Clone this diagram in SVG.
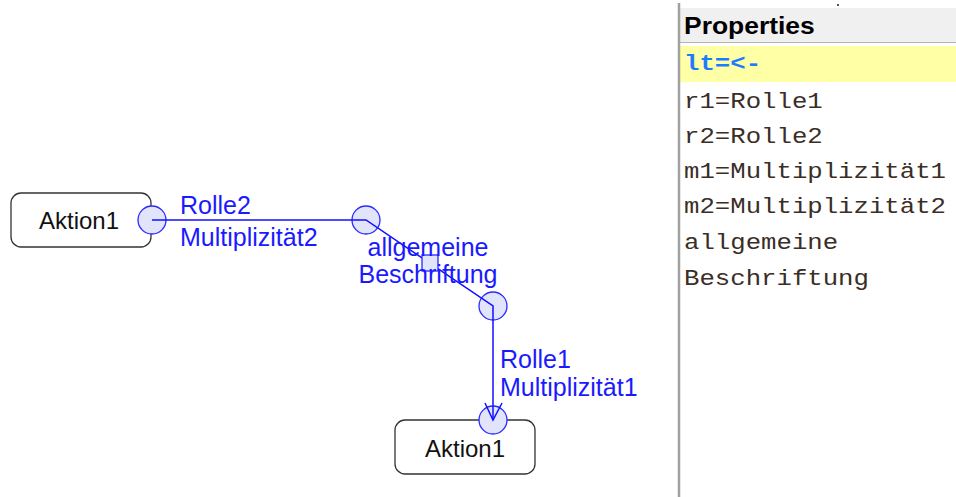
<svg xmlns="http://www.w3.org/2000/svg" width="956" height="497" viewBox="0 0 956 497">
<style>
.node{fill:#fff;stroke:#333;stroke-width:1.3}
.ntext{font-family:"Liberation Sans",Arial,sans-serif;font-size:24px;fill:#111;text-anchor:middle}
.lbl{font-family:"Liberation Sans",Arial,sans-serif;font-size:25px;fill:#1a1aff}
.edge{fill:none;stroke:#1010ff;stroke-width:1.5}
.handle{fill:#e2e4fb;stroke:#2a2aff;stroke-width:1.3}
.prop{font-family:"Liberation Mono","Courier New",monospace;font-size:22px;fill:#3a2e26}
</style>
<rect width="956" height="497" fill="#fff"/>
<g id="node1">
<rect class="node" x="11" y="193" width="140" height="54" rx="10"/>
<text class="ntext" x="79" y="229">Aktion1</text>
</g>
<g id="node2">
<rect class="node" x="395" y="420" width="140" height="54" rx="10"/>
<text class="ntext" x="465" y="457">Aktion1</text>
</g>
<g id="connectors">
<circle class="handle" cx="152" cy="220" r="14"/>
<circle class="handle" cx="366" cy="220" r="14"/>
<circle class="handle" cx="493" cy="306" r="14"/>
<circle class="handle" cx="493" cy="420" r="14"/>
<polyline class="edge" points="152,220 366,220 493,306 493,420"/>
<rect class="handle" x="422" y="255" width="16" height="16"/>
<polyline class="edge" points="485,403 493,420 502,403"/>
<text class="lbl" x="180" y="214">Rolle2</text>
<text class="lbl" x="180" y="246">Multiplizität2</text>
<text class="lbl" x="428" y="256" text-anchor="middle">allgemeine</text>
<text class="lbl" x="428" y="283" text-anchor="middle">Beschriftung</text>
<text class="lbl" x="500" y="368">Rolle1</text>
<text class="lbl" x="500" y="396">Multiplizität1</text>
</g>
<g id="properties">
<rect x="680" y="8" width="276" height="34" fill="#f0f0f0"/>
<line x1="680" y1="42.5" x2="956" y2="42.5" stroke="#b4b4b4" stroke-width="1"/>
<rect x="680" y="46" width="276" height="36" fill="#ffffa6"/>
<line x1="679" y1="3" x2="679" y2="497" stroke="#a0a0a0" stroke-width="2.5"/>
<rect x="837" y="4" width="2" height="2" fill="#555"/>
<text x="0" y="34" transform="translate(684,0) scale(1.15,1)" font-family="'Liberation Sans',Arial,sans-serif" font-size="23" font-weight="bold" fill="#000">Properties</text>
<g transform="translate(684,0) scale(1.168,1)">
<text class="prop" x="0" y="70" font-weight="bold" style="fill:#1e7bff">lt=&lt;-</text>
<text class="prop" x="0" y="108">r1=Rolle1</text>
<text class="prop" x="0" y="143">r2=Rolle2</text>
<text class="prop" x="0" y="178">m1=Multiplizität1</text>
<text class="prop" x="0" y="213">m2=Multiplizität2</text>
<text class="prop" x="0" y="249">allgemeine</text>
<text class="prop" x="0" y="285">Beschriftung</text>
</g>
</g>
</svg>
